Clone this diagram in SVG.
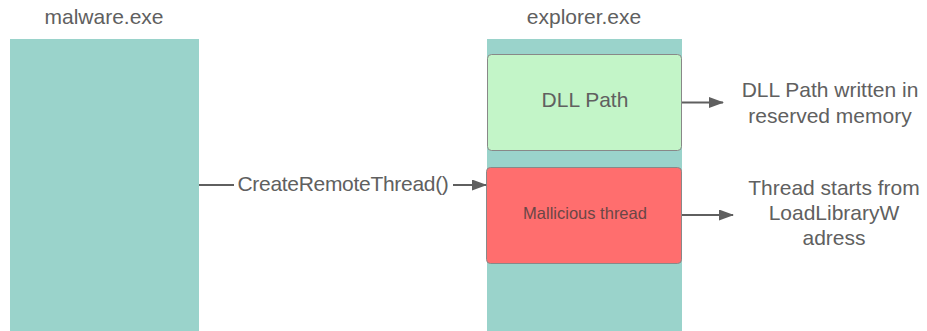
<svg xmlns="http://www.w3.org/2000/svg" width="927" height="331" viewBox="0 0 927 331">
  <style>
    text { font-family: "Liberation Sans", Arial, sans-serif; fill: #606060; text-anchor: middle; }
    .title { font-size: 21px; }
    .lbl { font-size: 21px; }
    .small { font-size: 16.5px; fill: #6a4646; }
    .bar { fill: #9AD3CB; }
    .box { stroke: #888888; stroke-width: 1; }
    .conn { stroke: #5f5f5f; stroke-width: 2; fill: none; }
  </style>
  <defs>
    <!-- filled triangular arrowhead shared by all connectors -->
    <marker id="arrow" markerWidth="15" markerHeight="11" refX="14" refY="5.5" orient="auto" markerUnits="userSpaceOnUse">
      <path d="M0,0 L15,5.5 L0,11 Z" fill="#5f5f5f"/>
    </marker>
  </defs>
  <rect width="927" height="331" fill="#ffffff"/>

  <g id="malware">
    <text class="title" x="104" y="24">malware.exe</text>
    <rect class="bar" x="10" y="39" width="189" height="292"/>
  </g>

  <g id="explorer">
    <text class="title" x="584" y="24">explorer.exe</text>
    <rect class="bar" x="487" y="39" width="195" height="292"/>
  </g>

  <g id="dll-path">
    <rect class="box" x="487.5" y="54.5" width="194" height="96" rx="4" fill="#C3F5C8"/>
    <text class="lbl" x="585" y="107">DLL Path</text>
  </g>

  <g id="malicious-thread">
    <rect class="box" x="486.5" y="167.5" width="195" height="96" rx="4" fill="#FF6E6E"/>
    <text class="small" x="585" y="219">Mallicious thread</text>
  </g>

  <g id="dll-note">
    <text class="lbl" x="830" y="97">DLL Path written in</text>
    <text class="lbl" x="830" y="123">reserved memory</text>
  </g>

  <g id="thread-note">
    <text class="lbl" x="834" y="195">Thread starts from</text>
    <text class="lbl" x="834" y="220">LoadLibraryW</text>
    <text class="lbl" x="834" y="245">adress</text>
  </g>

  <g id="connectors">
    <line class="conn" x1="199" y1="185" x2="234" y2="185"/>
    <line class="conn" x1="453" y1="185" x2="486" y2="185" marker-end="url(#arrow)"/>
    <text class="lbl" x="343" y="191" letter-spacing="-0.3">CreateRemoteThread()</text>
    <line class="conn" x1="682" y1="102.5" x2="723" y2="102.5" marker-end="url(#arrow)"/>
    <line class="conn" x1="682" y1="215" x2="733" y2="215" marker-end="url(#arrow)"/>
  </g>
</svg>
